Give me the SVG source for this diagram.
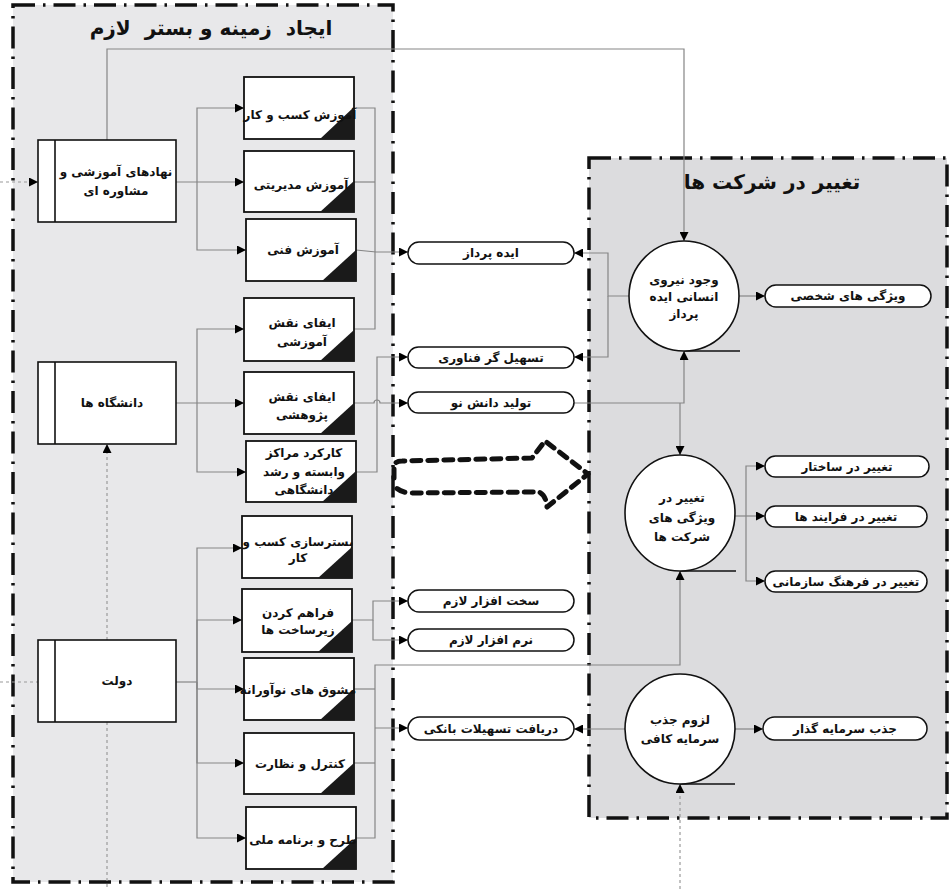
<svg xmlns="http://www.w3.org/2000/svg" width="950" height="889" viewBox="0 0 950 889">
<defs>
<marker id="ar" viewBox="0 0 10 10" refX="10" refY="5" markerWidth="9" markerHeight="9" markerUnits="userSpaceOnUse" orient="auto"><path d="M0,0 L10,5 L0,10 z" fill="#000"/></marker>
<style>
.frame{stroke:#111;stroke-width:3.5;stroke-dasharray:22 8 2.5 8;fill:none}
.box{fill:#fff;stroke:#111;stroke-width:1.8}
.pbox{fill:#fff;stroke:#111;stroke-width:1.6}
.tri{fill:#1a1a1a}
.ov{fill:#fff;stroke:#111;stroke-width:1.5}
.cir{fill:#fff;stroke:#111;stroke-width:1.6}
.c{fill:none;stroke:#858585;stroke-width:1.2}
.ca{fill:none;stroke:#858585;stroke-width:1.2;marker-end:url(#ar)}
.d{fill:none;stroke:#9a9a9a;stroke-width:1.2;stroke-dasharray:3 3}
.da{fill:none;stroke:#9a9a9a;stroke-width:1.2;stroke-dasharray:3 3;marker-end:url(#ar)}
.tan{fill:none;stroke:#111;stroke-width:1.5}
text{font-family:"DejaVu Sans",sans-serif;font-weight:bold;fill:#111;text-anchor:middle;direction:rtl}
.t{font-size:12px}
.title{font-size:20px;white-space:pre}
</style>
</defs>
<rect width="950" height="889" fill="#fff"/>
<g id="container-left">
<rect x="13" y="5" width="380" height="877" fill="#e8e8ea"/>
<rect x="13" y="5" width="380" height="877" class="frame"/>
<text class="title" x="211" y="35">ایجاد  زمینه و بستر  لازم</text>
</g>
<g id="container-right">
<rect x="589" y="158" width="358" height="660" fill="#dcdcde"/>
<rect x="589" y="158" width="358" height="660" class="frame"/>
<text class="title" x="772" y="189">تغییر در شرکت ها</text>
</g>
<g id="connectors">
<path class="ca" d="M107,140 V49 H684 V241"/>
<path class="da" d="M0,182 H38"/>
<path class="d" d="M0,682 H38"/>
<path class="da" d="M107,640 V444"/>
<path class="d" d="M107,722 V889"/>
<path class="ca" d="M176,182 H244"/>
<path class="ca" d="M197,182 V108 H244"/>
<path class="ca" d="M197,182 V250 H246"/>
<path class="ca" d="M176,403 H244"/>
<path class="ca" d="M197,403 V329 H244"/>
<path class="ca" d="M197,403 V472 H246"/>
<path class="c" d="M176,682 H197"/>
<path class="ca" d="M197,682 V548 H242"/>
<path class="ca" d="M197,682 V620 H242"/>
<path class="ca" d="M197,682 V689 H244"/>
<path class="ca" d="M197,682 V763 H244"/>
<path class="ca" d="M197,682 V838 H246"/>
<path class="c" d="M354,108 H375 V329 H354"/>
<path class="c" d="M354,182 H375"/>
<path class="ca" d="M356,250 L376,252 H408"/>
<path class="ca" d="M356,472 H377 V357 H408"/>
<path class="ca" d="M354,403 H374 A3,3 0 0 1 380,403 H408"/>
<path class="ca" d="M352,620 H373 V601 H408"/>
<path class="ca" d="M373,620 V640 H408"/>
<path class="c" d="M354,689 H375"/>
<path class="c" d="M354,763 H375"/>
<path class="ca" d="M356,838 H375 V665 H680 V571"/>
<path class="ca" d="M375,728 H408"/>
<path class="ca" d="M629,296 H608 V253 H574"/>
<path class="ca" d="M608,296 V357 H574"/>
<path class="ca" d="M574,403 H684 V351"/>
<path class="ca" d="M680,403 V455"/>
<path class="ca" d="M739,296 H765"/>
<path class="c" d="M735,516 H746"/>
<path class="ca" d="M746,516 V466 H765"/>
<path class="ca" d="M746,516 H765"/>
<path class="ca" d="M746,516 V581 H765"/>
<path class="ca" d="M625,729 H574"/>
<path class="ca" d="M735,729 H763"/>
<path class="da" d="M680,889 V784"/>
<path class="tan" d="M684,351 H740"/>
<path class="tan" d="M680,571 H736"/>
<path class="tan" d="M680,784 H735"/>
<path d="M394,478 V466 Q395,461 402,461 L532,458 L545,441 L588,474 L547,507 Q546,495 539,492 L410,493 Q398,492 394,485" fill="none" stroke="#111" stroke-width="5" stroke-dasharray="9 7" stroke-linecap="round" stroke-linejoin="round"/>
</g>
<g id="p1"><rect class="pbox" x="38" y="140" width="138" height="82"/><line x1="55" y1="140" x2="55" y2="222" stroke="#111" stroke-width="1.6"/><text class="t" x="116" y="176">نهادهای آموزشی و</text><text class="t" x="116" y="195">مشاوره ای</text></g>
<g id="p2"><rect class="pbox" x="38" y="362" width="138" height="82"/><line x1="55" y1="362" x2="55" y2="444" stroke="#111" stroke-width="1.6"/><text class="t" x="112" y="407">دانشگاه ها</text></g>
<g id="p3"><rect class="pbox" x="38" y="640" width="138" height="82"/><line x1="55" y1="640" x2="55" y2="722" stroke="#111" stroke-width="1.6"/><text class="t" x="117" y="685">دولت</text></g>
<g id="b1"><rect class="box" x="244" y="77" width="110" height="62"/><path class="tri" d="M320,139 H354 V107 z"/><text class="t" x="300" y="119">آموزش کسب و کار</text></g>
<g id="b2"><rect class="box" x="244" y="151" width="110" height="61"/><path class="tri" d="M320,212 H354 V181 z"/><text class="t" x="301" y="189">آموزش مدیریتی</text></g>
<g id="b3"><rect class="box" x="246" y="219" width="110" height="62"/><path class="tri" d="M322,281 H356 V250 z"/><text class="t" x="303" y="254">آموزش فنی</text></g>
<g id="b4"><rect class="box" x="244" y="298" width="110" height="63"/><path class="tri" d="M320,361 H354 V330 z"/><text class="t" x="302" y="327">ایفای نقش</text><text class="t" x="302" y="346">آموزشی</text></g>
<g id="b5"><rect class="box" x="244" y="372" width="110" height="62"/><path class="tri" d="M320,434 H354 V403 z"/><text class="t" x="302" y="401">ایفای نقش</text><text class="t" x="302" y="419">پژوهشی</text></g>
<g id="b6"><rect class="box" x="246" y="441" width="110" height="61"/><path class="tri" d="M322,502 H356 V471 z"/><text class="t" x="304" y="457">کارکرد مراکز</text><text class="t" x="304" y="476">وابسته و رشد</text><text class="t" x="304" y="494">دانشگاهی</text></g>
<g id="b7"><rect class="box" x="242" y="516" width="110" height="62"/><path class="tri" d="M318,578 H352 V547 z"/><text class="t" x="298" y="546">بسترسازی کسب و</text><text class="t" x="298" y="562">کار</text></g>
<g id="b8"><rect class="box" x="242" y="589" width="110" height="63"/><path class="tri" d="M318,652 H352 V621 z"/><text class="t" x="298" y="617">فراهم کردن</text><text class="t" x="298" y="634">زیرساخت ها</text></g>
<g id="b9"><rect class="box" x="244" y="658" width="110" height="62"/><path class="tri" d="M320,720 H354 V689 z"/><text class="t" x="298" y="694">مشوق های نوآورانه</text></g>
<g id="b10"><rect class="box" x="244" y="733" width="110" height="61"/><path class="tri" d="M320,794 H354 V763 z"/><text class="t" x="300" y="768">کنترل و نظارت</text></g>
<g id="b11"><rect class="box" x="246" y="807" width="110" height="62"/><path class="tri" d="M322,869 H356 V838 z"/><text class="t" x="303" y="844">طرح و برنامه ملی</text></g>
<g id="o1"><rect class="ov" x="408" y="242" width="166" height="22" rx="11"/><text class="t" x="491" y="257">ایده پرداز</text></g>
<g id="o2"><rect class="ov" x="408" y="347" width="166" height="21" rx="10.5"/><text class="t" x="491" y="362">تسهیل گر فناوری</text></g>
<g id="o3"><rect class="ov" x="408" y="392" width="166" height="21" rx="10.5"/><text class="t" x="491" y="407">تولید دانش نو</text></g>
<g id="o4"><rect class="ov" x="408" y="590" width="166" height="22" rx="11"/><text class="t" x="491" y="605">سخت  افزار لازم</text></g>
<g id="o5"><rect class="ov" x="408" y="629" width="166" height="22" rx="11"/><text class="t" x="491" y="644">نرم افزار لازم</text></g>
<g id="o6"><rect class="ov" x="408" y="717" width="166" height="23" rx="11.5"/><text class="t" x="491" y="733">دریافت تسهیلات بانکی</text></g>
<g id="c1"><circle class="cir" cx="684" cy="296" r="55"/><text class="t" x="684" y="284">وجود نیروی</text><text class="t" x="684" y="301">انسانی ایده</text><text class="t" x="684" y="318">پرداز</text></g>
<g id="c2"><ellipse class="cir" cx="680" cy="513" rx="55" ry="58"/><text class="t" x="682" y="502">تغییر در</text><text class="t" x="682" y="522">ویژگی های</text><text class="t" x="682" y="541">شرکت ها</text></g>
<g id="c3"><ellipse class="cir" cx="680" cy="729" rx="55" ry="55"/><text class="t" x="680" y="724">لزوم جذب</text><text class="t" x="680" y="743">سرمایه کافی</text></g>
<g id="r1"><rect class="ov" x="765" y="285" width="166" height="22" rx="11"/><text class="t" x="848" y="300">ویژگی های شخصی</text></g>
<g id="r2"><rect class="ov" x="765" y="456" width="164" height="21" rx="10.5"/><text class="t" x="847" y="471">تغییر در ساختار</text></g>
<g id="r3"><rect class="ov" x="765" y="506" width="162" height="21" rx="10.5"/><text class="t" x="846" y="521">تغییر در فرایند ها</text></g>
<g id="r4"><rect class="ov" x="765" y="571" width="162" height="21" rx="10.5"/><text class="t" x="846" y="586">تغییر در فرهنگ سازمانی</text></g>
<g id="r5"><rect class="ov" x="763" y="717" width="164" height="23" rx="11.5"/><text class="t" x="845" y="733">جذب سرمایه گذار</text></g>
</svg>
